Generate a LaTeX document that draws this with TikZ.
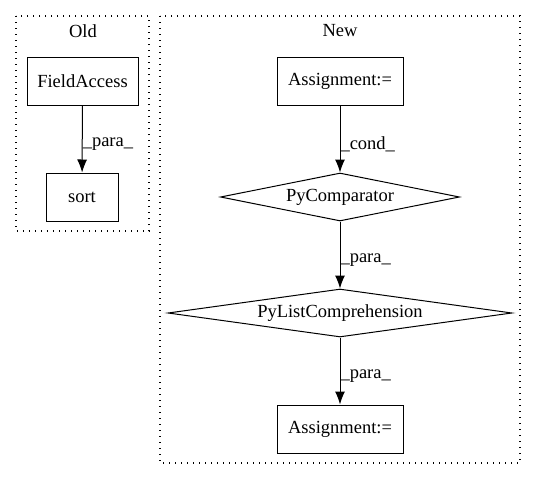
\documentclass[tikz,border=0pt]{standalone}
\usepackage{fontspec}
\setmainfont{Liberation Serif}
\usetikzlibrary{shapes.geometric,arrows.meta}
\begin{document}
\begin{tikzpicture}[x=1pt,y=-1pt,
			every node/.style={font=\fontsize{18.5}{20}\selectfont},
			stmt/.style={rectangle, draw=black, line width=1pt, inner sep=0pt, minimum height=48pt},
			cmp/.style={diamond, draw=black, line width=1pt, inner sep=0pt, minimum height=48pt},
			cluster/.style={draw=black, line width=1.2pt, dash pattern=on 1.3pt off 4.7pt},
			flow/.style={-{Latex[length=13pt,width=10pt]}, line width=1pt},
			lbl/.style={right, inner sep=0pt, yshift=-5pt},
			]
			\useasboundingbox (0,0) rectangle (536,480);
			\draw[cluster] (16,16) rectangle (149,231);
			\node at (83,31) (oldlabel) {Old};
			\draw[cluster] (160,16) rectangle (520,463);
			\node at (340,31) (newlabel) {New};
			\node[stmt, minimum width=111pt] at (82.5,81) (fieldaccess) {FieldAccess};
			\node[stmt, minimum width=72pt] at (82,197) (sort) {sort};
			\node[stmt, minimum width=126pt] at (340,81) (assigntop) {Assignment:=};
			\node[cmp, aspect=5, minimum width=239pt] at (340,197) (comparator) {PyComparator};
			\node[cmp, aspect=7.3, minimum width=344pt] at (340,313) (listcomp) {PyListComprehension};
			\node[stmt, minimum width=126pt] at (340,429) (assignbot) {Assignment:=};
			\draw[flow] (fieldaccess) -- node[lbl] {\_para\_} (sort);
			\draw[flow] (assigntop) -- node[lbl] {\_cond\_} (comparator);
			\draw[flow] (comparator) -- node[lbl] {\_para\_} (listcomp);
			\draw[flow] (listcomp) -- node[lbl] {\_para\_} (assignbot);
		\end{tikzpicture}
\end{document}
